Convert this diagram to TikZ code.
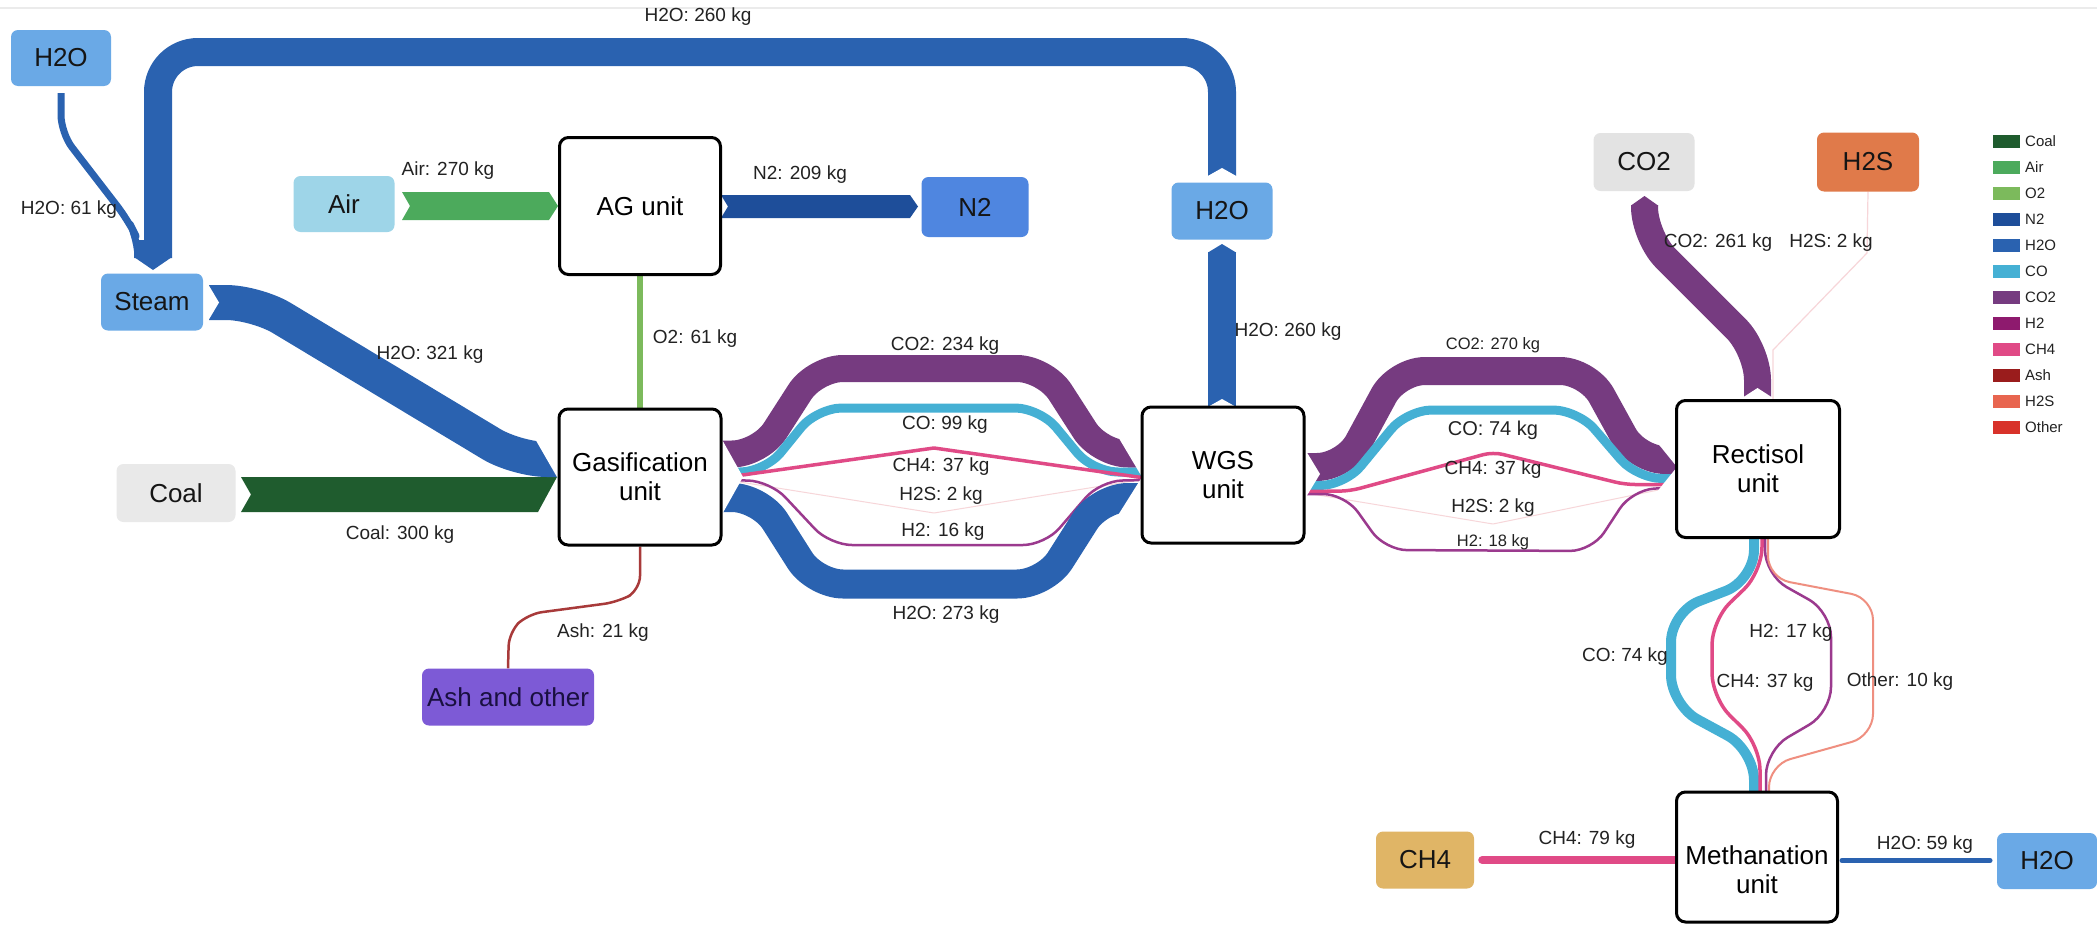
\documentclass[tikz,border=0pt]{standalone}
\usepackage{fontspec}
\setmainfont{Liberation Sans}
\newcommand{\myNodeFont}{\fontsize{26}{29}\selectfont}
\newcommand{\myLblFont}{\fontsize{19}{22}\selectfont}
\newcommand{\mySmallFont}{\fontsize{16.5}{19}\selectfont}
\newcommand{\myBigLblFont}{\fontsize{20}{23}\selectfont}
\newcommand{\myLegFont}{\fontsize{15}{18}\selectfont}
\definecolor{coal}{HTML}{1F5C2E}
\definecolor{air}{HTML}{4CAA5C}
\definecolor{o2}{HTML}{7CBA5C}
\definecolor{n2}{HTML}{1E4E9A}
\definecolor{h2o}{HTML}{2A62B0}
\definecolor{co}{HTML}{45B0D4}
\definecolor{co2}{HTML}{763B80}
\definecolor{h2}{HTML}{8E1A6E}
\definecolor{h2line}{HTML}{9B3A8E}
\definecolor{ch4}{HTML}{E04A86}
\definecolor{ash}{HTML}{9A1C1C}
\definecolor{ashline}{HTML}{A83A3A}
\definecolor{h2sleg}{HTML}{E8654F}
\definecolor{h2sline}{HTML}{F7D6D9}
\definecolor{other}{HTML}{D8322A}
\definecolor{otherline}{HTML}{EF8F80}
\definecolor{h2onode}{HTML}{6AA9E6}
\definecolor{airnode}{HTML}{9ED5E8}
\definecolor{n2node}{HTML}{4F86E0}
\definecolor{coalnode}{HTML}{E9E9E9}
\definecolor{co2node}{HTML}{E3E3E3}
\definecolor{h2snode}{HTML}{E07A4A}
\definecolor{ashnode}{HTML}{7D5AD6}
\definecolor{ch4node}{HTML}{E0B566}
\definecolor{txtdark}{HTML}{151515}
\definecolor{ashtext}{HTML}{1A1040}
\definecolor{lbltext}{HTML}{222222}
\pgfdeclarelayer{bg}
\pgfsetlayers{bg,main}
\begin{document}
\begin{tikzpicture}[x=1pt,y=-1pt,
  unit/.style={draw=black, line width=3pt, rounded corners=9pt, fill=white, align=center, inner sep=0pt, font=\myNodeFont, text=black},
  src/.style={rounded corners=7pt, inner sep=0pt, font=\myNodeFont, text=txtdark},
  lbl/.style={font=\myLblFont, inner sep=0pt, text=lbltext},
  slbl/.style={font=\mySmallFont, inner sep=0pt, text=lbltext},
  leg/.style={font=\myLegFont, inner sep=0pt, text=lbltext, anchor=west},
  band/.style={line cap=butt, line join=round}
]
\useasboundingbox (0,0) rectangle (2097,926);

% ---------- nodes ----------
\node[src, fill=h2onode, minimum width=100pt, minimum height=56pt] (h2oA) at (61,58) {H2O};
\node[src, fill=h2onode, minimum width=102pt, minimum height=57pt] (steam) at (152,302) {Steam};
\node[src, fill=airnode, minimum width=101pt, minimum height=56pt] (air) at (344,204) {Air};
\node[unit, minimum width=161pt, minimum height=137pt] (ag) at (640,206) {AG unit};
\node[src, fill=n2node, minimum width=107pt, minimum height=60pt] (n2) at (975,207) {N2};
\node[src, fill=h2onode, minimum width=101pt, minimum height=57pt] (h2oB) at (1222,211) {H2O};
\node[unit, minimum width=162pt, minimum height=136pt] (gas) at (640,477) {Gasification\\unit};
\node[src, fill=coalnode, minimum width=119pt, minimum height=58pt] (coal) at (176,493) {Coal};
\node[src, fill=ashnode, minimum width=172pt, minimum height=57pt, text=ashtext] (ashn) at (508,697) {Ash and other};
\node[unit, minimum width=162pt, minimum height=136pt] (wgs) at (1223,475) {WGS\\unit};
\node[unit, minimum width=163pt, minimum height=137pt] (rect) at (1758,469) {Rectisol\\unit};
\node[src, fill=co2node, minimum width=101pt, minimum height=58pt] (co2n) at (1644,162) {CO2};
\node[src, fill=h2snode, minimum width=102pt, minimum height=59pt] (h2sn) at (1868,162) {H2S};
\node[unit, minimum width=161pt, minimum height=130pt] (meth) at (1757,857) {};
\node[font=\myNodeFont, align=center, inner sep=0pt, text=black] (methtext) at (1757,870) {Methanation\\unit};
\node[src, fill=ch4node, minimum width=98pt, minimum height=57pt] (ch4n) at (1425,860) {CH4};
\node[src, fill=h2onode, minimum width=100pt, minimum height=56pt] (h2oC) at (2047,861) {H2O};

% ---------- bands ----------
\begin{pgfonlayer}{bg}
\fill[white] (0,0) rectangle (2097,926);
\draw[black!8, line width=1.5pt] (0,8) -- (2097,8);
% recycle loop H2O 260
\draw[band, draw=h2o, line width=28pt, rounded corners=40pt] (1222,176) -- (1222,52) -- (158,52) -- (158,258);
\fill[white] (1206,177) -- (1222,168) -- (1238,177) -- cycle;
\fill[h2o] (134,240) rectangle (146,258);
\draw[band, draw=h2o, line width=7pt, rounded corners=18pt] (h2oA.south |- 0,93) -- (61,133) -- (128,220) -- (138,240) -- (138,258);
\fill[h2o] (134,257) -- (172,257) -- (153,270) -- cycle;
% WGS -> H2O
\draw[band, draw=h2o, line width=28pt] (1222,407) -- (1222,252);
\fill[h2o] (1208,252.5) -- (1236,252.5) -- (1222,244) -- cycle;
\fill[white] (1206,408) -- (1222,399) -- (1238,408) -- cycle;
% Air -> AG
\fill[air] (402,192) -- (549,192) -- (558,206) -- (549,220) -- (402,220) -- (410,206) -- cycle;
% AG -> N2
\fill[n2] (721,195) -- (910,195) -- (918,206.5) -- (910,218) -- (721,218) -- (728,206.5) -- cycle;
% O2
\draw[o2, line width=6pt] (ag.south) -- (gas.north);
% Coal
\fill[coal] (241,477) -- (557,477) -- (538,512) -- (241,512) -- (251,494.5) -- cycle;
% Steam -> Gasification
\draw[band, draw=h2o, line width=35pt, rounded corners=30pt] (209,302.5) -- (256,302.5) -- (517,459.5) -- (562,459.5);
\fill[white] (528.8,428) -- (557,477) -- (566,477) -- (566,428) -- cycle;
\fill[white] (208,284) -- (219,302.5) -- (208,321) -- cycle;
% Ash
\draw[ashline, line width=2.5pt, rounded corners=14pt] (gas.south) -- (640,590) -- (618,602) -- (528,614) -- (509,632) -- (ashn.north);

% Gasification -> WGS bundle
\draw[band, draw=co2, line width=27pt, rounded corners=28pt] (721,454) -- (760,454) -- (815,368.5) -- (1045,368.5) -- (1100,454) -- (1145,454);
\draw[band, draw=co, line width=9pt, rounded corners=25pt] (721,472) -- (765,472) -- (817,408) -- (1040,408) -- (1093,472) -- (1145,472);
\draw[band, draw=ch4, line width=3.5pt] (721,478) -- (934,448) -- (1145,478);
\draw[band, draw=h2sline, line width=1pt] (721,479) -- (934,513) -- (1145,479);
\draw[band, draw=h2line, line width=2.5pt, rounded corners=22pt] (721,480) -- (770,481) -- (830,545) -- (1045,545) -- (1100,481) -- (1145,480);
\draw[band, draw=h2o, line width=29pt, rounded corners=28pt] (721,497.5) -- (760,497.5) -- (815,584) -- (1045,584) -- (1100,497.5) -- (1145,497.5);
\fill[white] (720,436) -- (743,477) -- (720,518) -- cycle;
\fill[white] (1118.2,437) -- (1142,477) -- (1150,477) -- (1150,437) -- cycle;
\fill[white] (1116.9,517) -- (1142,477) -- (1150,477) -- (1150,517) -- cycle;

% WGS -> Rectisol bundle
\draw[band, draw=co2, line width=28pt, rounded corners=28pt] (1303,467) -- (1345,467) -- (1397,371) -- (1588,371) -- (1637,460) -- (1680,460);
\draw[band, draw=co, line width=9pt, rounded corners=25pt] (1303,485.5) -- (1345,485.5) -- (1407,410) -- (1578,410) -- (1637,478.5) -- (1680,478.5);
\draw[band, draw=ch4, line width=3.5pt, rounded corners=10pt] (1303,491.5) -- (1350,491) -- (1493,452) -- (1625,484.5) -- (1680,484.5);
\draw[band, draw=h2sline, line width=1pt] (1303,492.5) -- (1493,524) -- (1680,485.5);
\draw[band, draw=h2line, line width=2.5pt, rounded corners=22pt] (1303,494) -- (1345,494) -- (1385,550) -- (1592,551) -- (1632,490) -- (1680,487);
\fill[white] (1303,446) -- (1320,474) -- (1303,502) -- cycle;
\fill[white] (1657.6,443) -- (1677,467) -- (1685,467) -- (1685,443) -- cycle;
\fill[white] (1657.6,491) -- (1677,467) -- (1685,467) -- (1685,491) -- cycle;

% Rectisol -> CO2
\draw[band, draw=co2, line width=27pt, rounded corners=30pt] (1757.5,397) -- (1757.5,350) -- (1644.5,237) -- (1644.5,205);
\fill[co2] (1631,205.5) -- (1658,205.5) -- (1644.5,196) -- cycle;
\fill[white] (1742,398) -- (1757.5,388) -- (1773,398) -- cycle;
% Rectisol -> H2S
\draw[h2sline, line width=1.2pt] (1773,400) -- (1773,350) -- (1867,253) -- (h2sn.south);

% Rectisol -> Methanation
\draw[band, draw=co, line width=10pt, rounded corners=30pt] (1754,539) -- (1754,580) -- (1671,612) -- (1671,705) -- (1754,750) -- (1754,794);
\draw[band, draw=ch4, line width=3.5pt, rounded corners=25pt] (1762,539) -- (1762,572) -- (1712,620) -- (1712,698) -- (1760,745) -- (1760,794);
\draw[band, draw=h2line, line width=2.5pt, rounded corners=25pt] (1765,539) -- (1765,575) -- (1831,612) -- (1831,712) -- (1766,750) -- (1766,794);
\draw[band, draw=otherline, line width=2pt, rounded corners=22pt] (1768,539) -- (1768,578) -- (1873,598) -- (1873,736) -- (1769,765) -- (1769,794);

% Methanation outputs
\draw[ch4, line width=8pt, line cap=round] (ch4n.east |- 0,860) ++(8,0) -- (meth.west |- 0,860);
\draw[h2o, line width=5pt, line cap=round] (meth.east |- 0,860.5) ++(3,0) -- (1990,860.5);
\end{pgfonlayer}

% ---------- labels ----------
\node[lbl] (l1) at (698,17) {H2O: 260 kg};
\node[lbl] (l2) at (69,210) {H2O: 61 kg};
\node[lbl] (l3) at (448,171) {Air: 270 kg};
\node[lbl] (l4) at (800,175) {N2: 209 kg};
\node[lbl] (l5) at (695,339) {O2: 61 kg};
\node[lbl] (l6) at (430,355) {H2O: 321 kg};
\node[lbl] (l7) at (400,535) {Coal: 300 kg};
\node[lbl] (l8) at (603,633) {Ash: 21 kg};
\node[lbl] (l9) at (1288,332) {H2O: 260 kg};
\node[lbl] (l10) at (945,346) {CO2: 234 kg};
\node[lbl] (l11) at (945,425) {CO: 99 kg};
\node[lbl] (l12) at (941,467) {CH4: 37 kg};
\node[lbl] (l13) at (941,496) {H2S: 2 kg};
\node[lbl] (l14) at (943,532) {H2: 16 kg};
\node[lbl] (l15) at (946,615) {H2O: 273 kg};
\node[slbl] (l16) at (1493,345) {CO2: 270 kg};
\node[lbl, font=\myBigLblFont] (l17) at (1493,430) {CO: 74 kg};
\node[lbl] (l18) at (1493,470) {CH4: 37 kg};
\node[lbl] (l19) at (1493,508) {H2S: 2 kg};
\node[slbl] (l20) at (1493,542) {H2: 18 kg};
\node[lbl] (l21) at (1718,243) {CO2: 261 kg};
\node[lbl] (l22) at (1831,243) {H2S: 2 kg};
\node[lbl] (l23) at (1625,657) {CO: 74 kg};
\node[lbl] (l24) at (1791,633) {H2: 17 kg};
\node[lbl] (l25) at (1765,683) {CH4: 37 kg};
\node[lbl] (l26) at (1900,682) {Other: 10 kg};
\node[lbl] (l27) at (1587,840) {CH4: 79 kg};
\node[lbl] (l28) at (1925,845) {H2O: 59 kg};

% ---------- legend ----------
\foreach \c/\t [count=\i from 0] in {coal/Coal, air/Air, o2/O2, n2/N2, h2o/H2O, co/CO, co2/CO2, h2/H2, ch4/CH4, ash/Ash, h2sleg/H2S, other/Other} {
  \fill[\c] (1993,{141+26*\i-6.5}) rectangle (2020,{141+26*\i+6.5});
  \node[leg] (leg\i) at (2025,{141+26*\i}) {\t};
}
\end{tikzpicture}
\end{document}
